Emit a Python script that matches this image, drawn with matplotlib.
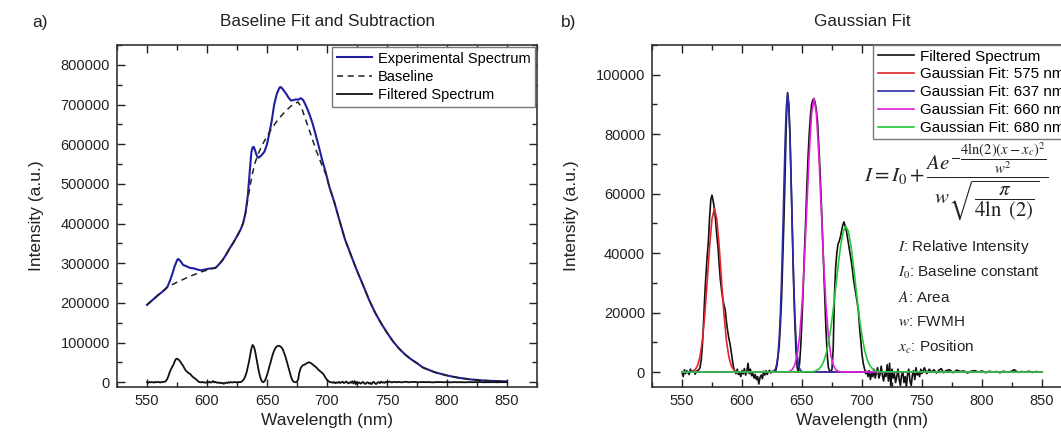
import matplotlib
matplotlib.use("Agg")
import matplotlib.pyplot as plt
from matplotlib.ticker import MultipleLocator, FormatStrFormatter

plt.rcParams["font.family"] = ["Liberation Sans", "DejaVu Sans"]
plt.rcParams["mathtext.fontset"] = "stix"

# ---- panel a: experimental spectrum and baseline (nm, a.u.) ----
exp_x = [550, 553, 556, 559, 562, 565, 567, 569, 571, 573, 575, 576, 578, 580, 583, 586,
         589, 592, 595, 598, 601, 604, 607, 610, 613, 616, 619, 622, 625, 628, 630, 632,
         634, 636, 637, 638, 639, 640, 641, 642, 643, 644, 646, 648, 650, 652, 654, 656,
         658, 660, 661, 662, 664, 666, 668, 670, 672, 674, 676, 678, 680, 682, 684, 686,
         688, 690, 693, 696, 699, 702]
exp_y = [195000, 203000, 211000, 219000, 226000, 234000, 240000, 255000, 272000, 292000,
         307000, 311000, 305000, 296000, 292000, 288000, 287000, 284000, 282000, 284000,
         286000, 287000, 288000, 297000, 308000, 322000, 338000, 352000, 368000, 385000,
         400000, 425000, 470000, 545000, 580000, 592000, 593000, 585000, 575000, 568000,
         566000, 568000, 574000, 582000, 600000, 628000, 660000, 700000, 725000, 740000,
         744000, 743000, 735000, 727000, 717000, 710000, 711000, 713000, 712000, 716000,
         712000, 700000, 686000, 670000, 652000, 630000, 596000, 560000, 528000, 492000]

base_x = [550, 553, 556, 559, 562, 565, 567, 575, 585, 595, 605, 607, 610, 613, 616, 619,
          622, 625, 628, 630, 632, 634, 636, 638, 640, 643, 646, 650, 654, 658, 662, 666,
          670, 673, 676, 679, 683, 687, 691, 695, 699, 702]
base_y = [195000, 203000, 211000, 219000, 226000, 234000, 240000, 252000, 266000, 278000,
          287000, 288000, 297000, 308000, 322000, 338000, 352000, 368000, 385000, 400000,
          425000, 462000, 496000, 528000, 553000, 578000, 598000, 620000, 640000, 657000,
          672000, 685000, 696000, 703000, 706000, 690000, 655000, 620000, 584000, 553000,
          525000, 492000]

# common tail of the experimental curve and the baseline
tail_x = [706, 710, 715, 720, 725, 730, 735, 740, 745, 750, 755, 760, 765, 770, 775, 780,
          790, 800, 810, 820, 830, 840, 850]
tail_y = [455000, 412000, 360000, 320000, 281000, 245000, 208000, 176000, 149000, 125000,
          103000, 85000, 70000, 58000, 48000, 37000, 25000, 17000, 11000, 7000, 4500, 3000, 2000]

# ---- filtered spectrum (shared by both panels) ----
filt_x = [550, 551, 552, 553, 554, 556, 557, 558, 560, 561, 562, 564, 565, 566, 567, 568,
          569, 570, 571, 572, 573, 574, 575, 576, 577, 578, 579, 580, 581, 582, 583, 584,
          585, 586, 587, 588, 589, 590, 591, 592, 593, 594, 595, 596, 597, 598, 599, 600,
          601, 602, 603, 604, 605, 606, 607, 608, 609, 610, 611, 612, 613, 614, 615, 616,
          617, 618, 619, 620, 621, 622, 623, 624, 625, 626, 627, 628, 629, 630, 631, 632,
          633, 634, 635, 636, 637, 638, 639, 640, 641, 642, 643, 644, 645, 646, 647, 648,
          649, 650, 651, 652, 653, 654, 655, 656, 657, 658, 659, 660, 661, 662, 663, 664,
          665, 666, 667, 668, 669, 670, 671, 672, 673, 674, 675, 676, 677, 678, 679, 680,
          681, 682, 683, 684, 685, 686, 687, 688, 689, 690, 691, 692, 693, 694, 695, 696,
          697, 698, 699, 700, 701, 702, 703, 704, 705, 706, 707, 708, 709, 710, 711, 712,
          713, 714, 715, 716, 717, 718, 719, 720, 721, 722, 723, 724, 725, 726, 727, 728,
          729, 730, 731, 732, 733, 734, 735, 736, 737, 738, 739, 740, 741, 742, 743, 744,
          745, 746, 747, 748, 749, 750, 752, 754, 756, 758, 760, 762, 764, 766, 768, 770,
          773, 776, 779, 782, 785, 788, 791, 794, 797, 800, 803, 806, 809, 812, 815, 818,
          821, 824, 827, 830, 833, 836, 839, 842, 845, 848, 850]
filt_y = [0, -1500, 800, -500, 500, -800, 1000, 0, 600, -700, 300, 800, 1500, 4000, 9000, 17000,
          26000, 33000, 39000, 44000, 52000, 58000, 59500, 57500, 55000, 51000, 46000, 42000,
          36000, 31000, 27500, 24500, 22500, 21000, 17000, 14000, 11500, 9500, 7000, 4000,
          1500, 300, -500, 1000, -800, 0, -1500, 500, -600, 1200, -1000, 200, 3000, -500,
          1000, -1200, -400, -2000, -800, -2500, -1500, -4000, -1800, -1000, -2200, 300,
          -1000, 500, -800, 200, 600, -300, 300, 0, 500, 300, 2000, 5000, 9000, 16000,
          25000, 38000, 52000, 68000, 85000, 94000, 90000, 80000, 63000, 47000, 30000, 17000,
          7000, 1500, 0, 3000, 9000, 18000, 28000, 40000, 50000, 62000, 72000, 80000, 86000,
          90000, 91500, 92000, 90500, 88000, 84000, 76000, 68000, 58000, 47000, 37000, 26000,
          14000, 6000, 1500, 500, 0, 1000, 8000, 25000, 35000, 40000, 43000, 44000, 45500,
          47500, 49500, 50500, 49000, 47500, 45000, 42500, 40000, 37500, 34500, 31000, 28500,
          26000, 23500, 20500, 15000, 10500, 6000, 3000, 1200, -500, 300, -1500, 500, -2500,
          -500, -1500, 1000, -2000, 0, 1500, -2000, -800, 2000, -1000, -3000, 0, -1500, 2500,
          -3000, 3000, -5000, 1000, -2000, -500, -3500, -1500, 1000, -2500, -4500, -1000, 0,
          -3500, -1500, -5000, -500, 1000, -3000, -4500, -1000, 500, -2500, 1500, -1000, 0,
          -1500, 1000, -500, 1500, -500, 1000, 0, 800, -300, 600, 1200, -200, 500, 800, -200,
          700, 200, 400, -300, 300, 500, 0, 400, -200, 300, 0, 200, -200, 300, 0, 200, 800,
          -100, 200, 0, 300, -100, 200, 0, 100]

# ---- panel b: gaussian fits ----
fit575_x = [550, 557, 559, 561, 563, 565, 567, 569, 571, 573, 575, 577, 579, 581, 583, 585,
            587, 589, 591, 593, 595, 597, 850]
fit575_y = [0, 80, 270, 830, 2200, 5200, 10700, 19300, 30500, 42300, 51500, 55000, 51500,
            42300, 30500, 19300, 10700, 5200, 2200, 830, 270, 80, 0]

fit637_x = [550, 625, 626, 627, 628, 629, 630, 631, 632, 633, 634, 635, 636, 637, 638, 639,
            640, 641, 642, 643, 644, 645, 646, 647, 648, 649, 650, 651, 850]
fit637_y = [0, 60, 180, 500, 1230, 2800, 5840, 11200, 19700, 31600, 46750, 63300, 78600,
            89500, 93500, 89500, 78600, 63300, 46750, 31600, 19700, 11200, 5840, 2800, 1230,
            500, 180, 60, 0]

fit660_x = [550, 638, 640, 642, 644, 646, 648, 650, 652, 654, 656, 658, 660, 662, 664, 666,
            668, 670, 672, 674, 676, 678, 680, 682, 850]
fit660_y = [0, 100, 320, 940, 2460, 5750, 12000, 22400, 37200, 55300, 73300, 86900, 92000,
            86900, 73300, 55300, 37200, 22400, 12000, 5750, 2460, 940, 320, 100, 0]

fit680_x = [550, 658.5, 660.5, 662.5, 664.5, 666.5, 668.5, 670.5, 672.5, 674.5, 676.5, 678.5,
            680.5, 682.5, 684.5, 686.5, 688.5, 690.5, 692.5, 694.5, 696.5, 698.5, 700.5,
            702.5, 704.5, 706.5, 708.5, 710.5, 712.5, 714.5, 850]
fit680_y = [0, 120, 270, 590, 1190, 2270, 4070, 6860, 10900, 16200, 22700, 30000, 37200,
            43300, 47500, 49000, 47500, 43300, 37200, 30000, 22700, 16200, 10900, 6860, 4070,
            2270, 1190, 590, 270, 120, 0]

fit_labels = ["Gaussian Fit: 575 nm", "Gaussian Fit: 637 nm", "Gaussian Fit: 660 nm",
              "Gaussian Fit: 680 nm"]
fit_colors = ["#e3242b", "#2b2ba8", "#e020d8", "#22c83a"]

legend_a = ["Experimental Spectrum", "Baseline", "Filtered Spectrum"]
descriptions = [r"$I$: Relative Intensity", r"$I_0$: Baseline constant", r"$A$: Area",
                r"$w$: FWMH", r"$x_c$: Position"]

W, H = 1061, 442
fig = plt.figure(figsize=(W / 100, H / 100), dpi=100)
fig.patch.set_facecolor("white")


def px_box(left, top, right, bottom):
    return [left / W, 1 - bottom / H, (right - left) / W, (bottom - top) / H]


def style_axes(ax, ymajor, yminor):
    ax.set_xlim(525, 875)
    ax.xaxis.set_major_locator(MultipleLocator(50))
    ax.xaxis.set_minor_locator(MultipleLocator(25))
    ax.yaxis.set_major_locator(MultipleLocator(ymajor))
    ax.yaxis.set_minor_locator(MultipleLocator(yminor))
    ax.yaxis.set_major_formatter(FormatStrFormatter("%d"))
    ax.tick_params(which="both", direction="in", top=True, right=True, labelsize=10.5,
                   width=1.0, colors="#222222")
    ax.tick_params(which="major", length=6, pad=5)
    ax.tick_params(which="minor", length=3.5)
    for sp in ax.spines.values():
        sp.set_linewidth(1.2)
        sp.set_color("#333333")
    ax.set_xlabel("Wavelength (nm)", fontsize=12.5, labelpad=4, color="#222222")
    ax.set_ylabel("Intensity (a.u.)", fontsize=12.5, labelpad=12, color="#222222")


# panel a
ax1 = fig.add_axes(px_box(117, 45, 537, 387))
ax1.plot(exp_x + tail_x, exp_y + tail_y, color="#1f1fa0", lw=1.5, label=legend_a[0])
ax1.plot(base_x + tail_x, base_y + tail_y, color="#222222", lw=1.1, ls=(0, (4, 3)),
         label=legend_a[1])
ax1.plot(filt_x, filt_y, color="#111111", lw=1.3, label=legend_a[2])
style_axes(ax1, 100000, 50000)
ax1.set_ylim(-12000, 850000)
ax1.set_title("Baseline Fit and Subtraction", fontsize=12.3, pad=14, color="#222222")
leg1 = ax1.legend(loc="upper right", fontsize=10.5, handlelength=2.4, handletextpad=0.4,
                  borderaxespad=0.15, borderpad=0.3, labelspacing=0.3, fancybox=False,
                  framealpha=1)
leg1.get_frame().set_edgecolor("#777777")
leg1.get_frame().set_linewidth(1.0)

# panel b
ax2 = fig.add_axes(px_box(652, 45, 1072, 387))
ax2.plot(filt_x, filt_y, color="#111111", lw=1.2, label="Filtered Spectrum")
for fx, fy, lab, col in zip([fit575_x, fit637_x, fit660_x, fit680_x],
                            [fit575_y, fit637_y, fit660_y, fit680_y],
                            fit_labels, fit_colors):
    ax2.plot(fx, fy, color=col, lw=1.2, label=lab)
style_axes(ax2, 20000, 10000)
ax2.set_ylim(-5000, 110000)
ax2.set_title("Gaussian Fit", fontsize=12.3, pad=14, color="#222222")
leg2 = ax2.legend(loc="upper left", bbox_to_anchor=(0.526, 1.0), fontsize=11,
                  handlelength=2.4, handletextpad=0.4, borderaxespad=0.0, borderpad=0.3,
                  labelspacing=0.25, fancybox=False, framealpha=1)
leg2.get_frame().set_edgecolor("#777777")
leg2.get_frame().set_linewidth(1.0)

formula = (r"$I = I_0 + \dfrac{Ae^{-\dfrac{4\ln(2)(x-x_c)^2}{w^2}}}"
           r"{w\sqrt{\dfrac{\pi}{4\ln\ (2)}}}$")
ax2.text(0.724, 0.60, formula, transform=ax2.transAxes, ha="center", va="center",
         fontsize=15, color="#222222")
for i, d in enumerate(descriptions):
    ax2.text(0.586, 0.410 - i * 0.0737, d, transform=ax2.transAxes, ha="left",
             va="center", fontsize=11, color="#222222")

fig.text(40 / W, 1 - 22 / H, "a)", fontsize=12.5, ha="center", va="center", color="#222222")
fig.text(569 / W, 1 - 22 / H, "b)", fontsize=12.5, ha="center", va="center", color="#222222")

fig.savefig("out.png", dpi=100)
